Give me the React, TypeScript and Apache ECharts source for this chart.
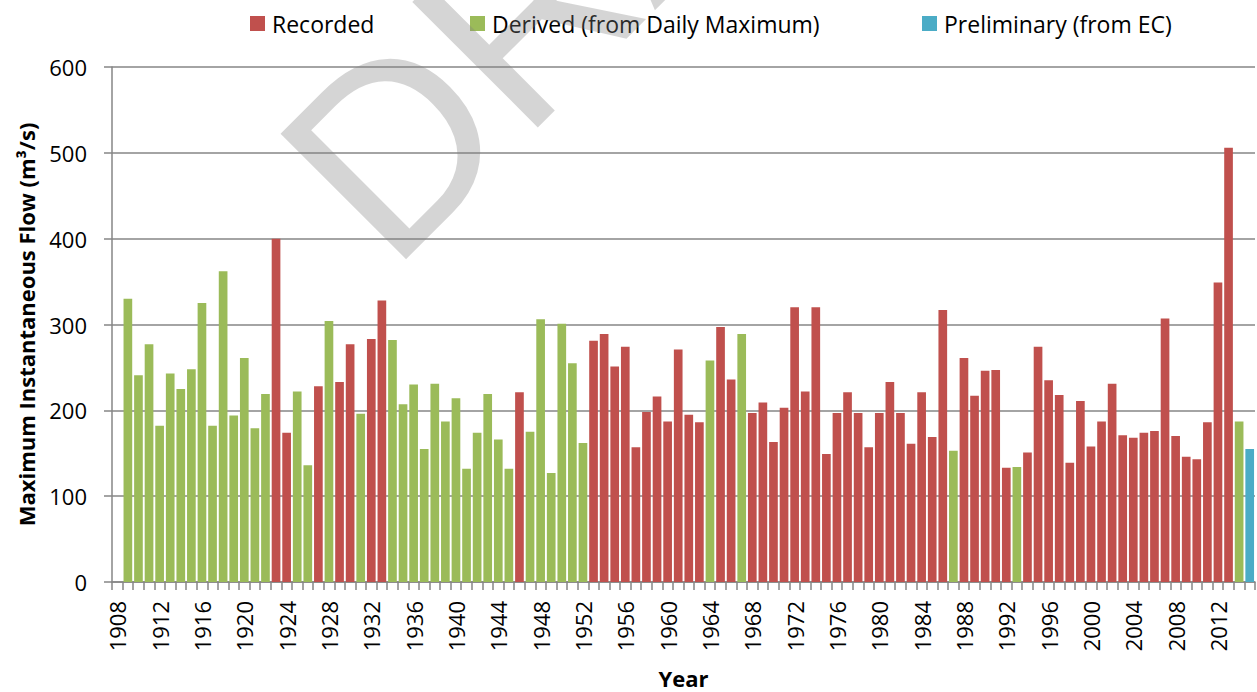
import React, { useEffect, useRef } from "react";
import * as echarts from "echarts";

const firstYear = 1908;

// Annual maximum instantaneous flow (m³/s); 1908 has no value
const peakFlow: (number | null)[] = [
  null, 330, 241, 277, 182, 243, 225, 248, 325, 182, 362, 194, 261, 179, 219, 400, 174, 222, 136, 228,
  304, 233, 277, 196, 283, 328, 282, 207, 230, 155, 231, 187, 214, 132, 174, 219, 166, 132, 221, 175,
  306, 127, 301, 255, 162, 281, 289, 251, 274, 157, 198, 216, 187, 271, 195, 186, 258, 297, 236, 289,
  197, 209, 163, 203, 320, 222, 320, 149, 197, 221, 197, 157, 197, 233, 197, 161, 221, 169, 317, 153,
  261, 217, 246, 247, 133, 134, 151, 274, 235, 218, 139, 211, 158, 187, 231, 171, 168, 174, 176, 307,
  170, 146, 143, 186, 349, 506, 187, 155,
];

// R = Recorded, D = Derived (from Daily Maximum), P = Preliminary (from EC)
const source: string[] = [
  "-", "D", "D", "D", "D", "D", "D", "D", "D", "D", "D", "D", "D", "D", "D", "R", "R", "D", "D", "R",
  "D", "R", "R", "D", "R", "R", "D", "D", "D", "D", "D", "D", "D", "D", "D", "D", "D", "D", "R", "D",
  "D", "D", "D", "D", "D", "R", "R", "R", "R", "R", "R", "R", "R", "R", "R", "R", "D", "R", "R", "D",
  "R", "R", "R", "R", "R", "R", "R", "R", "R", "R", "R", "R", "R", "R", "R", "R", "R", "R", "R", "D",
  "R", "R", "R", "R", "R", "D", "R", "R", "R", "R", "R", "R", "R", "R", "R", "R", "R", "R", "R", "R",
  "R", "R", "R", "R", "R", "R", "D", "P",
];

const seriesDefs = [
  { code: "R", name: "Recorded", color: "#C0504D" },
  { code: "D", name: "Derived (from Daily Maximum)", color: "#9BBB59" },
  { code: "P", name: "Preliminary (from EC)", color: "#4BACC6" },
];
const legendLeft = [250, 470, 922];

const years: string[] = peakFlow.map((_, i) => String(firstYear + i));

const FONT = "'Open Sans', 'Noto Sans', sans-serif";

export default function App() {
  const ref = useRef<HTMLDivElement>(null);

  useEffect(() => {
    if (!ref.current) return;
    const chart = echarts.init(ref.current, undefined, { renderer: "svg" });

    const series = seriesDefs.map((s) => ({
      name: s.name,
      type: "bar" as const,
      stack: "flow",
      barCategoryGap: "18%",
      itemStyle: { color: s.color },
      data: peakFlow.map((v, i) => (source[i] === s.code ? v : null)),
    }));

    const legends = seriesDefs.map((s, i) => ({
      left: legendLeft[i],
      top: 12,
      padding: 0,
      icon: "rect",
      itemWidth: 15,
      itemHeight: 15,
      data: [s.name],
      selectedMode: false,
      textStyle: { fontFamily: FONT, fontSize: 23, color: "#000", padding: [0, 0, 0, 2] },
    }));

    chart.setOption({
      animation: false,
      backgroundColor: "#fff",
      grid: { left: 112, right: 2, top: 67, bottom: 110, containLabel: false, outerBoundsMode: "none" },
      legend: legends,
      xAxis: {
        type: "category",
        data: years,
        boundaryGap: true,
        name: "Year",
        nameLocation: "middle",
        nameGap: 85,
        nameTextStyle: { fontFamily: FONT, fontSize: 22, fontWeight: "bold", color: "#000" },
        axisLine: { lineStyle: { color: "#868686", width: 1.5 } },
        axisTick: { show: true, interval: 0, length: 8, alignWithLabel: false, lineStyle: { color: "#868686", width: 1.5 } },
        axisLabel: {
          interval: 3,
          rotate: 90,
          margin: 19,
          fontFamily: FONT,
          fontSize: 22,
          color: "#000",
        },
        splitLine: { show: false },
      },
      yAxis: {
        type: "value",
        min: 0,
        max: 600,
        interval: 100,
        name: "Maximum Instantaneous Flow (m³/s)",
        nameLocation: "middle",
        nameGap: 75,
        nameTextStyle: { fontFamily: FONT, fontSize: 22, fontWeight: "bold", color: "#000" },
        axisLine: { show: true, lineStyle: { color: "#868686", width: 1.5 } },
        axisTick: { show: true, length: 8, lineStyle: { color: "#868686", width: 1.5 } },
        axisLabel: { margin: 25, fontFamily: FONT, fontSize: 22, color: "#000" },
        splitLine: { show: true, lineStyle: { color: "#868686", width: 1.5 } },
      },
      series,
      graphic: [
        {
          type: "text",
          x: 419,
          y: 302,
          rotation: Math.PI / 4,
          z: 100,
          silent: true,
          style: {
            text: "DRAFT",
            fontFamily: "'Liberation Sans', Arial, sans-serif",
            fontSize: 258,
            fill: "rgba(128,128,128,0.33)",
            textAlign: "left",
            textVerticalAlign: "bottom",
          },
        },
      ],
    });

    return () => chart.dispose();
  }, []);

  return (
    <div
      ref={ref}
      style={{ position: "fixed", left: 0, top: 0, width: 1257, height: 692 }}
    />
  );
}
